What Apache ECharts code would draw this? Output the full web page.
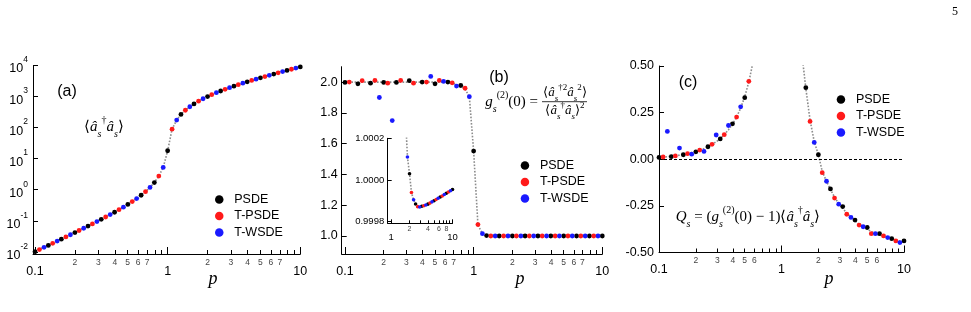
<!DOCTYPE html>
<html>
<head>
<meta charset="utf-8">
<script src="https://cdn.jsdelivr.net/npm/echarts@6/dist/echarts.min.js"></script>
<style>
  html, body { margin: 0; padding: 0; background: #fff; }
  #chart { width: 971px; height: 312px; }
</style>
</head>
<body>
<div id="chart"></div>
<script>
// pump values p (shared by the three panels)
const pGrid = [0.1, 0.108, 0.117, 0.126, 0.136, 0.147, 0.158, 0.171, 0.185, 0.2,
  0.215, 0.233, 0.251, 0.271, 0.293, 0.316, 0.341, 0.369, 0.398, 0.43,
  0.464, 0.501, 0.541, 0.584, 0.631, 0.681, 0.736, 0.794, 0.858, 0.926,
  1, 1.08, 1.17, 1.26, 1.36, 1.47, 1.58, 1.71, 1.85, 2,
  2.15, 2.33, 2.51, 2.71, 2.93, 3.16, 3.41, 3.69, 3.98, 4.3,
  4.64, 5.01, 5.41, 5.84, 6.31, 6.81, 7.36, 7.94, 8.58, 9.26, 10];

// solvers take turns along pGrid: PSDE, T-PSDE, T-WSDE, PSDE, ...
const methods = ['PSDE', 'T-PSDE', 'T-WSDE'];
const methodColors = ['#000000', '#ff1a1a', '#1a1aff'];

// (a) <a_s+ a_s>
const occA = [0.0101, 0.0118, 0.0139, 0.0161, 0.0188, 0.0221, 0.0256, 0.0301, 0.0354, 0.0417,
  0.0485, 0.0574, 0.0673, 0.0792, 0.0939, 0.111, 0.132, 0.158, 0.188, 0.227,
  0.274, 0.335, 0.414, 0.518, 0.662, 0.865, 1.18, 1.70, 2.75, 5.2,
  18, 89, 175, 265, 362, 470, 580, 710, 850, 1000,
  1150, 1330, 1510, 1710, 1930, 2160, 2410, 2690, 2980, 3300,
  3640, 4010, 4410, 4840, 5310, 5810, 6360, 6940, 7580, 8260, 9000];

// (b) g2(0), simulated and analytic
const g2Data = [1.998, 2.000, 11.8, 1.989, 2.009, 3.7, 1.993, 2.011, 1.900, 1.998,
  1.993, 1.750, 1.998, 2.011, 2.38, 2.009, 1.993, 2.15, 2.000, 2.000,
  2.037, 1.989, 2.011, 2.004, 2.000, 1.995, 1.974, 1.978, 1.960, 1.905,
  1.552, 1.074, 1.015, 1.003, 1.000, 1.000, 1.000, 1.000, 1.000, 1.000,
  1.000, 1.000, 1.000, 1.000, 1.000, 1.000, 1.000, 1.000, 1.000, 1.000,
  1.000, 1.000, 1.000, 1.000, 1.000, 1.000, 1.000, 1.000, 1.000, 1.000, 1.000];
const g2Theory = [2, 2, 2, 2, 2, 2, 2, 2, 2, 2,
  2, 2, 2, 2, 2, 2, 2, 2, 2, 2,
  2, 2, 2, 2, 1.998, 1.994, 1.985, 1.975, 1.955, 1.905,
  1.55, 1.072, 1.015, 1.004, 1.001, 1, 1, 1, 1, 1,
  1, 1, 1, 1, 1, 1, 1, 1, 1, 1,
  1, 1, 1, 1, 1, 1, 1, 1, 1, 1, 1];

// (b) inset, values start at pGrid[36]
const insetStart = 36;
const g2Inset = [1.00062, 1.00032, 1.000110, 1.000030, 0.999940, 0.999905, 0.999885, 0.999872, 0.999870, 0.999874,
  0.999876, 0.999880, 0.999884, 0.999889, 0.999895, 0.999900, 0.999906, 0.999912, 0.999918, 0.999923,
  0.999930, 0.999936, 0.999942, 0.999948, 0.999954];

// (c) Q_s
const qData = [0.010, 0.012, 0.149, 0.014, 0.018, 0.060, 0.024, 0.030, 0.027, 0.040,
  0.049, 0.042, 0.067, 0.080, 0.130, 0.109, 0.132, 0.181, 0.190, 0.226,
  0.281, 0.330, 0.418, 0.530, 0.66, 0.87, 1.2, 1.6, 2.6, 4.6,
  9.9, 6.0, 2.8, 1.5, 1.0, 0.62, 0.384, 0.203, 0.090, 0.024,
  -0.072, -0.118, -0.159, -0.208, -0.241, -0.254, -0.295, -0.312, -0.326, -0.353,
  -0.362, -0.366, -0.399, -0.399, -0.399, -0.411, -0.420, -0.426, -0.438, -0.447, -0.438];
const qTheory = [0.0101, 0.0118, 0.0139, 0.0161, 0.0188, 0.0221, 0.0256, 0.0301, 0.0354, 0.0417,
  0.0485, 0.0574, 0.0673, 0.0792, 0.0939, 0.111, 0.132, 0.158, 0.188, 0.227,
  0.274, 0.335, 0.414, 0.518, 0.662, '-', '-', '-', '-', '-',
  '-', '-', '-', '-', '-', 0.56, 0.38, 0.21, 0.095, 0.024,
  -0.065, -0.118, -0.162, -0.203, -0.238, -0.262, -0.290, -0.312, -0.330, -0.348,
  -0.362, -0.375, -0.388, -0.398, -0.406, -0.413, -0.420, -0.427, -0.433, -0.438, -0.442];

// tick / label values
const minorTicks = [0.2, 0.3, 0.4, 0.5, 0.6, 0.7, 0.8, 0.9, 2, 3, 4, 5, 6, 7, 8, 9];
const minorLabelsAB = [0.2, 0.3, 0.4, 0.5, 0.6, 0.7, 2, 3, 4, 5, 6, 7];
const minorLabelsC = [0.2, 0.3, 0.4, 0.5, 0.6, 2, 3, 4, 5, 6];
const majorTicks = [0.1, 1, 10];
const yTicksA = [0.01, 0.1, 1, 10, 100, 1000, 10000];
const yTicksB = [1.0, 1.2, 1.4, 1.6, 1.8, 2.0];
const insetMinorTicks = [2, 3, 4, 5, 6, 7, 8, 9];
const insetMinorLabels = [2, 4, 6, 8];
const insetMajor = [1, 10];
const yTicksInset = [0.9998, 1.0, 1.0002];

const SANS = 'Liberation Sans';
const SERIF = 'Liberation Serif';

const chart = echarts.init(document.getElementById('chart'));

const fmtMinor = v => String(v < 1 ? Math.round(v * 10) : Math.round(v));
const fmtMajor = v => (v < 0.5 ? '0.1' : String(Math.round(v)));

// two stacked log axes per panel: short ticks + small digits, long ticks + big labels
function logX(grid, min, max, minorT, minorL, majorT, s) {
  return [
    {
      type: 'log', gridIndex: grid, min: min, max: max, position: 'bottom',
      axisLine: { show: true, onZero: false, lineStyle: { color: '#000', width: 1 } },
      axisTick: { show: true, inside: true, length: s.minorLen, customValues: minorT, lineStyle: { color: '#000' } },
      axisLabel: { customValues: minorL, formatter: fmtMinor, fontSize: s.minorFont, color: '#444', margin: s.minorMargin, fontFamily: SANS },
      splitLine: { show: false }
    },
    {
      type: 'log', gridIndex: grid, min: min, max: max, position: 'bottom',
      axisLine: { show: false, onZero: false },
      axisTick: { show: true, inside: true, length: s.majorLen, customValues: majorT, lineStyle: { color: '#000' } },
      axisLabel: { customValues: majorT, formatter: fmtMajor, fontSize: s.majorFont, color: '#000', margin: s.majorMargin, fontFamily: SANS },
      splitLine: { show: false }
    }
  ];
}

const mainX = { minorLen: 4, majorLen: 7, minorFont: 8.5, majorFont: 12.5, minorMargin: 4, majorMargin: 11 };
const insetX = { minorLen: 3, majorLen: 4, minorFont: 7, majorFont: 9.5, minorMargin: 2, majorMargin: 9 };

const xAxis = [
  ...logX(0, 0.0966, 10, minorTicks, minorLabelsAB, majorTicks, mainX),
  ...logX(1, 0.0943, 10, minorTicks, minorLabelsAB, majorTicks, mainX),
  ...logX(2, 0.1, 10, minorTicks, minorLabelsC, majorTicks, mainX),
  ...logX(3, 0.883, 10, insetMinorTicks, insetMinorLabels, insetMajor, insetX)
];

const yBase = {
  axisLine: { show: true, onZero: false, lineStyle: { color: '#000', width: 1 } },
  splitLine: { show: false }
};

const yAxis = [
  {
    ...yBase, type: 'log', gridIndex: 0, min: 0.0085, max: 10000,
    axisTick: { inside: true, length: 5, customValues: yTicksA, lineStyle: { color: '#000' } },
    axisLabel: {
      customValues: yTicksA, margin: 5,
      formatter: v => '{b|10}{s|' + Math.round(Math.log10(v)) + '}',
      rich: {
        b: { fontFamily: SANS, fontSize: 12.5, color: '#000', lineHeight: 20, verticalAlign: 'bottom' },
        s: { fontFamily: SANS, fontSize: 8.5, color: '#000', lineHeight: 12, verticalAlign: 'top' }
      }
    }
  },
  {
    ...yBase, type: 'value', gridIndex: 1, min: 0.883, max: 2.1,
    axisTick: { inside: true, length: 5, customValues: yTicksB, lineStyle: { color: '#000' } },
    axisLabel: { customValues: yTicksB, margin: 4, formatter: v => v.toFixed(1), fontSize: 12.5, color: '#000', fontFamily: SANS }
  },
  {
    ...yBase, type: 'value', gridIndex: 2, min: -0.5, max: 0.5, interval: 0.25,
    axisTick: { inside: true, length: 5, lineStyle: { color: '#000' } },
    axisLabel: { margin: 5, formatter: v => v.toFixed(2), fontSize: 12.5, color: '#000', fontFamily: SANS }
  },
  {
    ...yBase, type: 'value', gridIndex: 3, min: 0.999792, max: 1.0002,
    axisTick: { inside: true, length: 4, customValues: yTicksInset, lineStyle: { color: '#000' } },
    axisLabel: { customValues: yTicksInset, margin: 3.5, formatter: v => v.toFixed(4), fontSize: 9.5, color: '#000', fontFamily: SANS }
  }
];

function pick(values, m, offset) {
  const out = [];
  values.forEach((v, i) => {
    const k = i + offset;
    if (k % 3 === m && v !== '-') out.push([pGrid[k], v]);
  });
  return out;
}

function theoryLine(values, axis, offset) {
  return {
    type: 'line', xAxisIndex: axis * 2, yAxisIndex: axis,
    data: values.map((v, i) => [pGrid[i + offset], v]),
    showSymbol: false, silent: true, clip: true, z: 2,
    lineStyle: { color: '#8c8c8c', width: 1.6, type: [1.6, 1.6] }
  };
}

function scatterSet(values, axis, offset, size) {
  return methods.map((name, m) => ({
    type: 'scatter', name: name, xAxisIndex: axis * 2, yAxisIndex: axis,
    data: pick(values, m, offset), symbolSize: size, clip: true, z: 3,
    itemStyle: { color: methodColors[m], opacity: 1 }
  }));
}

const series = [
  theoryLine(occA, 0, 0),
  ...scatterSet(occA, 0, 0, 4.8),
  theoryLine(g2Theory, 1, 0),
  ...scatterSet(g2Data, 1, 0, 4.8),
  {
    ...theoryLine(qTheory, 2, 0),
    markLine: {
      silent: true, symbol: 'none', label: { show: false },
      lineStyle: { color: '#000', width: 1, type: [3, 2] },
      data: [{ yAxis: 0 }]
    }
  },
  ...scatterSet(qData, 2, 0, 4.8),
  theoryLine(g2Inset, 3, insetStart),
  ...scatterSet(g2Inset, 3, insetStart, 3.6)
];

function legendAt(left, top) {
  return {
    orient: 'vertical', left: left, top: top,
    itemWidth: 20, itemHeight: 8.5, itemGap: 3.5,
    icon: 'circle', selectedMode: false,
    textStyle: { fontFamily: SANS, fontSize: 12.5, color: '#000' },
    data: methods
  };
}

// math annotations as rich text
const mathRich = {
  n: { fontFamily: SERIF, fontSize: 15, lineHeight: 24, color: '#000' },
  i: { fontFamily: SERIF, fontStyle: 'italic', fontSize: 15, lineHeight: 24, color: '#000' },
  sb: { fontFamily: SERIF, fontStyle: 'italic', fontSize: 10, lineHeight: 13, verticalAlign: 'bottom', color: '#000' },
  sp: { fontFamily: SERIF, fontSize: 10, lineHeight: 13, verticalAlign: 'top', color: '#000' }
};
const fracRich = {
  n: { fontFamily: SERIF, fontSize: 13, lineHeight: 20, color: '#000' },
  i: { fontFamily: SERIF, fontStyle: 'italic', fontSize: 13, lineHeight: 20, color: '#000' },
  sb: { fontFamily: SERIF, fontStyle: 'italic', fontSize: 9, lineHeight: 11, verticalAlign: 'bottom', color: '#000' },
  sp: { fontFamily: SERIF, fontSize: 9, lineHeight: 11, verticalAlign: 'top', color: '#000' }
};

function txt(x, y, text, style) {
  return { type: 'text', x: x, y: y, silent: true, style: Object.assign({ text: text }, style) };
}

const graphic = [
  txt(955, 12, '5', { font: '12px "Liberation Serif"', fill: '#000', align: 'center', verticalAlign: 'middle' }),
  txt(67, 92, '(a)', { font: '16px "Liberation Sans"', fill: '#000', align: 'center', verticalAlign: 'middle' }),
  txt(499, 78, '(b)', { font: '16px "Liberation Sans"', fill: '#000', align: 'center', verticalAlign: 'middle' }),
  txt(688, 83, '(c)', { font: '16px "Liberation Sans"', fill: '#000', align: 'center', verticalAlign: 'middle' }),
  txt(213, 279, 'p', { font: 'italic 18px "Liberation Serif"', fill: '#000', align: 'center', verticalAlign: 'middle' }),
  txt(520, 279, 'p', { font: 'italic 18px "Liberation Serif"', fill: '#000', align: 'center', verticalAlign: 'middle' }),
  txt(829, 279, 'p', { font: 'italic 18px "Liberation Serif"', fill: '#000', align: 'center', verticalAlign: 'middle' }),
  txt(104, 127, '{n|⟨}{i|â}{sb|s}{sp|†}{i|â}{sb|s}{n|⟩}',
    { rich: mathRich, align: 'center', verticalAlign: 'middle' }),
  txt(538, 102, '{i|g}{sb|s}{sp|(2)}{n|(0) =}',
    { rich: mathRich, align: 'right', verticalAlign: 'middle' }),
  txt(565, 93, '{n|⟨}{i|â}{sb|s}{sp|†2}{i|â}{sb|s}{sp|2}{n|⟩}',
    { rich: fracRich, align: 'center', verticalAlign: 'middle' }),
  txt(565, 111, '{n|⟨}{i|â}{sb|s}{sp|†}{i|â}{sb|s}{n|⟩}{sp|2}',
    { rich: fracRich, align: 'center', verticalAlign: 'middle' }),
  { type: 'line', silent: true, shape: { x1: 542, y1: 101.7, x2: 587, y2: 101.7 }, style: { stroke: '#000', lineWidth: 0.8 } },
  txt(748, 217, '{i|Q}{sb|s}{n| = (}{i|g}{sb|s}{sp|(2)}{n|(0) − 1)⟨}{i|â}{sb|s}{sp|†}{i|â}{sb|s}{n|⟩}',
    { rich: mathRich, align: 'center', verticalAlign: 'middle' })
];

chart.setOption({
  backgroundColor: '#fff',
  animation: false,
  grid: [
    { left: 33, top: 65.5, width: 267.3, height: 188.5 },
    { left: 341.7, top: 66.7, width: 260.6, height: 187.3 },
    { left: 659, top: 66, width: 245, height: 186.5 },
    { left: 387.7, top: 138.3, width: 64.8, height: 85 }
  ],
  xAxis: xAxis,
  yAxis: yAxis,
  legend: [legendAt(210, 188), legendAt(515.7, 154), legendAt(831.7, 88)],
  series: series,
  graphic: graphic
});
</script>
</body>
</html>
